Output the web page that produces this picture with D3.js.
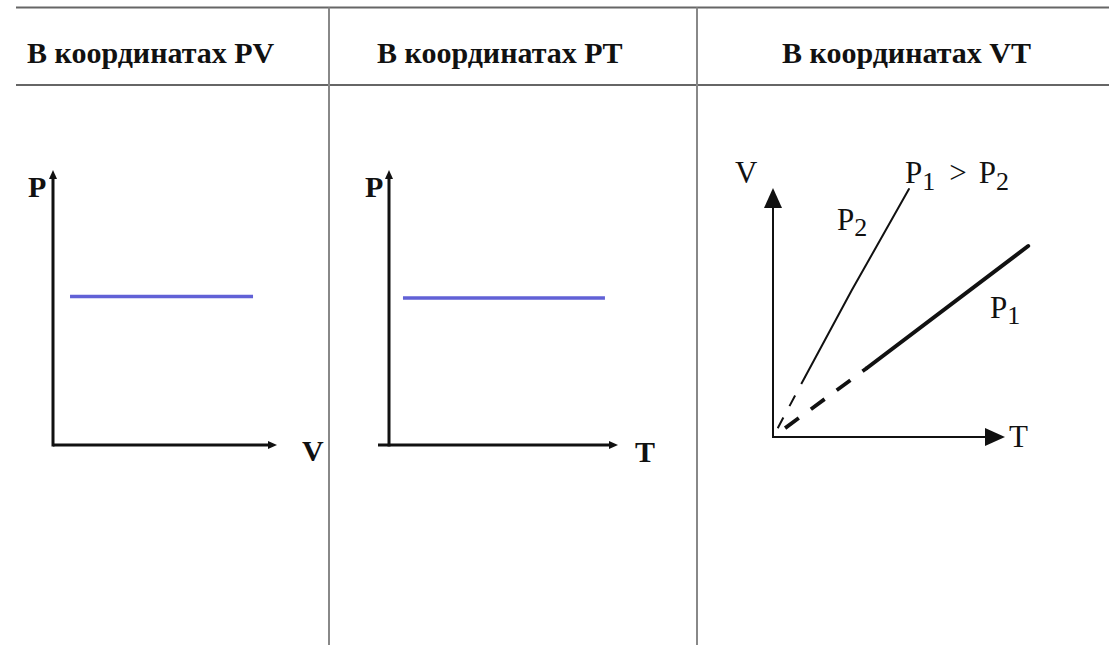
<!DOCTYPE html>
<html>
<head>
<meta charset="utf-8">
<script src="https://cdn.jsdelivr.net/npm/d3@7"></script>
<style>
  body { margin: 0; background: #fff; }
  text { font-family: "Liberation Serif", "DejaVu Serif", "Noto Serif", "Times New Roman", serif; }
</style>
</head>
<body>
<div id="chart"></div>
<script>
// header cells of the table
var headers = ["В координатах PV", "В координатах PT", "В координатах VT"];

// PV panel: isobar is a horizontal line
var pvAxisNames = ["V", "P"];
var pvV = [0.76, 8.93];
var pvP = [5.4, 5.4];

// PT panel: isobar is a horizontal line
var ptAxisNames = ["T", "P"];
var ptT = [0.61, 9.43];
var ptP = [5.35, 5.35];

// VT panel: two isobars through the origin
var vtAxisNames = ["T", "V"];
var vtP1T = [0, 4.05, 11.0];
var vtP1V = [0, 2.77, 7.67];
var vtP2T = [0, 1.38, 3.40, 5.86];
var vtP2V = [0, 2.41, 5.90, 9.96];
var vtDashEnd = 1; // points before this index are the dashed part

var width = 1109, height = 645;

var svg = d3.select("#chart").append("svg")
  .attr("width", width)
  .attr("height", height);

svg.append("rect").attr("width", width).attr("height", height).attr("fill", "#fff");

// ---- table frame ----
var colX = [16, 329, 697, width];
var topY = 7.5, headY = 85;

svg.append("line")
  .attr("x1", colX[0]).attr("x2", width)
  .attr("y1", topY).attr("y2", topY)
  .attr("stroke", "#666").attr("stroke-width", 2.2);
svg.append("line")
  .attr("x1", colX[0]).attr("x2", width)
  .attr("y1", headY).attr("y2", headY)
  .attr("stroke", "#666").attr("stroke-width", 2.2);

[colX[1], colX[2]].forEach(function(x) {
  svg.append("line")
    .attr("x1", x).attr("x2", x)
    .attr("y1", topY).attr("y2", height)
    .attr("stroke", "#888").attr("stroke-width", 2);
});

var headerX = [27, 377, 782];
svg.selectAll("text.head")
  .data(headers)
  .enter().append("text")
  .attr("class", "head")
  .attr("x", function(d, i) { return headerX[i]; })
  .attr("y", 63)
  .attr("font-weight", "bold")
  .attr("font-size", 30)
  .attr("fill", "#111")
  .text(function(d) { return d; });

// ---- arrow markers ----
var defs = svg.append("defs");
defs.append("marker")
  .attr("id", "arrow-small")
  .attr("markerUnits", "userSpaceOnUse")
  .attr("markerWidth", 12).attr("markerHeight", 12)
  .attr("viewBox", "0 -6 12 12")
  .attr("refX", 0).attr("refY", 0)
  .attr("orient", "auto")
  .append("path")
  .attr("d", "M0,-4L9,0L0,4Z")
  .attr("fill", "#111");

defs.append("marker")
  .attr("id", "arrow-big")
  .attr("markerUnits", "userSpaceOnUse")
  .attr("markerWidth", 22).attr("markerHeight", 22)
  .attr("viewBox", "0 -11 22 22")
  .attr("refX", 0).attr("refY", 0)
  .attr("orient", "auto")
  .append("path")
  .attr("d", "M0,-9L20,0L0,9Z")
  .attr("fill", "#111");

// ---- generic axis pair ----
function drawAxes(x, y, opts) {
  var g = svg.append("g");
  var x0 = x(opts.xFrom), x1 = x.range()[1];
  var y0 = y.range()[0], y1 = y.range()[1];
  // horizontal axis
  g.append("line")
    .attr("x1", x0).attr("x2", x1 - opts.head)
    .attr("y1", y(0)).attr("y2", y(0))
    .attr("stroke", "#111").attr("stroke-width", opts.sw)
    .attr("marker-end", "url(#" + opts.marker + ")");
  // vertical axis
  g.append("line")
    .attr("x1", x(0)).attr("x2", x(0))
    .attr("y1", y0 + opts.sw / 2).attr("y2", y1 + opts.head)
    .attr("stroke", "#111").attr("stroke-width", opts.sw)
    .attr("marker-end", "url(#" + opts.marker + ")");

  g.append("text")
    .attr("x", x1 + opts.xLabelDx).attr("y", y(0) + opts.xLabelDy)
    .attr("font-weight", opts.bold ? "bold" : "normal")
    .attr("font-size", opts.fs)
    .attr("fill", "#111")
    .text(opts.names[0]);
  g.append("text")
    .attr("x", x(0) + opts.yLabelDx).attr("y", y1 + opts.yLabelDy)
    .attr("font-weight", opts.bold ? "bold" : "normal")
    .attr("font-size", opts.fs)
    .attr("fill", "#111")
    .text(opts.names[1]);
  return g;
}

function isobar(x, y, xs, ys) {
  var pts = xs.map(function(d, i) { return [d, ys[i]]; });
  var line = d3.line()
    .x(function(d) { return x(d[0]); })
    .y(function(d) { return y(d[1]); });
  svg.append("path")
    .datum(pts)
    .attr("d", line)
    .attr("fill", "none")
    .attr("stroke", "#6161d6")
    .attr("stroke-width", 3.5);
}

// ---- PV ----
var pvX = d3.scaleLinear().domain([0, 10]).range([53, 277]);
var pvY = d3.scaleLinear().domain([0, 10]).range([445, 170]);
drawAxes(pvX, pvY, {
  xFrom: 0, head: 9, sw: 3, marker: "arrow-small", names: pvAxisNames,
  bold: true, fs: 30, xLabelDx: 25, xLabelDy: 16, yLabelDx: -25, yLabelDy: 27
});
isobar(pvX, pvY, pvV, pvP);

// ---- PT ----
var ptX = d3.scaleLinear().domain([0, 10]).range([389, 618]);
var ptY = d3.scaleLinear().domain([0, 10]).range([445, 170]);
drawAxes(ptX, ptY, {
  xFrom: -0.48, head: 9, sw: 3, marker: "arrow-small", names: ptAxisNames,
  bold: true, fs: 30, xLabelDx: 17, xLabelDy: 17, yLabelDx: -24, yLabelDy: 27
});
isobar(ptX, ptY, ptT, ptP);

// ---- VT ----
var vtX = d3.scaleLinear().domain([0, 10]).range([773, 1005]);
var vtY = d3.scaleLinear().domain([0, 10]).range([437, 188]);
drawAxes(vtX, vtY, {
  xFrom: 0, head: 20, sw: 2, marker: "arrow-big", names: vtAxisNames,
  bold: false, fs: 31, xLabelDx: 4, xLabelDy: 10, yLabelDx: -38, yLabelDy: -5
});

var vtLine = d3.line()
  .x(function(d) { return vtX(d[0]); })
  .y(function(d) { return vtY(d[1]); });

function vtSeries(ts, vs, dashSw, dash, dashOffset, solidSw) {
  var pts = ts.map(function(d, i) { return [d, vs[i]]; });
  svg.append("path")
    .datum(pts.slice(0, vtDashEnd + 1))
    .attr("d", vtLine)
    .attr("fill", "none")
    .attr("stroke", "#111")
    .attr("stroke-width", dashSw)
    .attr("stroke-dasharray", dash)
    .attr("stroke-dashoffset", dashOffset);
  svg.append("path")
    .datum(pts.slice(vtDashEnd))
    .attr("d", vtLine)
    .attr("fill", "none")
    .attr("stroke", "#111")
    .attr("stroke-width", solidSw)
    .attr("stroke-linecap", "round");
}

vtSeries(vtP1T, vtP1V, 3.8, "17,15", 17, 4);
vtSeries(vtP2T, vtP2V, 2, "12,13", -10, 2);

// labels P1 > P2, P2, P1
function subLabel(x, y, parts) {
  var t = svg.append("text")
    .attr("x", x).attr("y", y)
    .attr("font-size", 31)
    .attr("fill", "#111");
  parts.forEach(function(p) {
    t.append("tspan")
      .attr("dx", p.dx || 0)
      .attr("dy", p.dy || 0)
      .attr("font-size", p.fs || 31)
      .text(p.t);
  });
}

subLabel(905, 183, [
  { t: "P" },
  { t: "1", dy: 7, fs: 26 },
  { t: ">", dx: 14, dy: -7 },
  { t: "P", dx: 12 },
  { t: "2", dy: 7, fs: 26 }
]);
subLabel(837, 230, [
  { t: "P" },
  { t: "2", dy: 6, fs: 26 }
]);
subLabel(990, 318, [
  { t: "P" },
  { t: "1", dy: 6, fs: 26 }
]);
</script>
</body>
</html>
